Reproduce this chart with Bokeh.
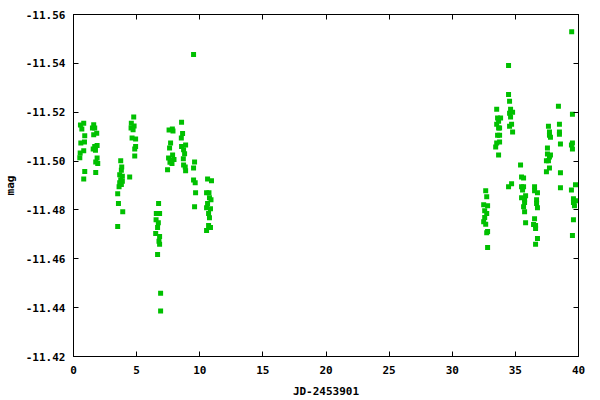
from bokeh.plotting import figure
from bokeh.models import Range1d, FixedTicker, PrintfTickFormatter, LinearAxis, CustomJSTickFormatter
from bokeh.embed import file_html
from bokeh.resources import INLINE

# Days since JD 2453901 and magnitudes
jd = [
    # night group 1
    0.55, 0.81, 0.66, 0.89, 0.58, 0.87, 0.81, 0.53, 0.50, 0.89, 0.81,
    1.60, 1.50, 1.68, 1.60, 1.84, 1.87, 1.68, 1.56, 1.74, 1.87, 1.76, 1.92, 1.76,
    # group 2
    3.74, 3.82, 3.79, 3.66, 3.87, 3.74, 3.87, 3.66, 3.61, 3.79, 3.50, 3.56, 3.90, 3.50, 4.45,
    4.77, 4.58, 4.80, 4.56, 4.72, 4.64, 4.92, 4.92, 4.85, 4.85,
    # group 3
    6.74, 6.56, 6.82, 6.54, 6.72, 6.66, 6.51, 6.82, 6.77, 6.82, 6.66, 6.90, 6.90,
    # group 4
    8.56, 7.57, 7.83, 7.88, 8.64, 8.54, 7.69, 7.61, 8.56, 8.88, 8.72, 8.80, 7.85, 7.53,
    7.75, 7.96, 7.64, 7.80, 8.70, 7.45, 8.72, 8.85, 8.88, 9.59, 9.51, 9.51, 9.64, 9.67,
    9.59, 9.51,
    # group 5
    10.62, 10.93, 10.54, 10.73, 10.77, 10.89, 10.62, 10.54, 10.85, 10.70, 10.77, 10.70,
    10.85, 10.54,
    # group 6
    32.65, 32.73, 32.49, 32.80, 32.57, 32.73, 32.57, 32.49, 32.65, 32.80, 32.73, 32.80,
    # group 7
    34.46, 34.46, 34.54, 33.52, 34.62, 34.54, 34.78, 34.62, 33.59, 33.83, 33.67, 33.52,
    34.70, 34.54, 33.67, 33.75, 34.78, 33.59, 33.75, 33.75, 33.52, 33.44, 33.67, 34.70,
    34.46,
    # group 8
    35.41, 35.49, 35.65, 35.49, 35.65, 35.57, 35.81, 35.49, 35.73, 35.73, 35.65, 35.73,
    35.81, 36.52, 36.52, 36.75, 36.68, 36.68, 36.75, 36.52, 36.44, 36.60, 36.60, 36.75,
    36.60,
    # group 9
    38.41, 37.62, 38.49, 37.70, 38.49, 37.70, 37.78, 38.49, 38.57, 37.54, 37.54, 37.78,
    37.70, 37.46, 37.62, 37.70, 37.46, 38.57, 38.57,
    # group 10
    39.52, 39.52, 39.44, 39.52, 39.76, 39.44, 39.60, 39.76, 39.60, 39.68, 39.60, 39.52,
    39.46,
]

mag = [
    -11.5148, -11.5155, -11.5131, -11.5104, -11.5074, -11.5078, -11.5042, -11.5033,
    -11.5014, -11.4957, -11.4927,
    -11.5149, -11.5135, -11.5135, -11.5108, -11.5114, -11.5064, -11.5060, -11.5049,
    -11.5044, -11.5013, -11.4996, -11.4990, -11.4953,
    -11.5001, -11.4976, -11.4962, -11.4944, -11.4938, -11.4924, -11.4917, -11.4911,
    -11.4895, -11.4904, -11.4866, -11.4826, -11.4793, -11.4732, -11.4935,
    -11.5180, -11.5155, -11.5144, -11.5135, -11.5128, -11.5094, -11.5090, -11.5060,
    -11.5049, -11.5021,
    -11.4826, -11.4785, -11.4785, -11.4760, -11.4748, -11.4728, -11.4703, -11.4691,
    -11.4672, -11.4659, -11.4618, -11.4459, -11.4386,
    -11.5159, -11.5127, -11.5131, -11.5123, -11.5113, -11.5094, -11.5074, -11.5053,
    -11.5060, -11.5066, -11.5046, -11.5030, -11.5025, -11.5013,
    -11.5003, -11.5006, -11.4995, -11.4990, -11.5010, -11.4964, -11.4984, -11.4976,
    -11.4960, -11.4996, -11.4972, -11.4923, -11.4911, -11.4870,
    -11.4813, -11.5436,
    -11.4927, -11.4919, -11.4870, -11.4870, -11.4850, -11.4842, -11.4826, -11.4809,
    -11.4805, -11.4785, -11.4768, -11.4736, -11.4728, -11.4716,
    -11.4878, -11.4854, -11.4821, -11.4817, -11.4797, -11.4785, -11.4769, -11.4752,
    -11.4741, -11.4712, -11.4707, -11.4646,
    -11.5391, -11.5273, -11.5245, -11.5212, -11.5212, -11.5196, -11.5200, -11.5180,
    -11.5176, -11.5176, -11.5163, -11.5151, -11.5151, -11.5143, -11.5135, -11.5135,
    -11.5119, -11.5106, -11.5106, -11.5078, -11.5074, -11.5058, -11.5025, -11.4907,
    -11.4895,
    -11.4984, -11.4935, -11.4931, -11.4895, -11.4895, -11.4882, -11.4858, -11.4850,
    -11.4842, -11.4830, -11.4813, -11.4793, -11.4748, -11.4895, -11.4878, -11.4870,
    -11.4842, -11.4826, -11.4809, -11.4764, -11.4740, -11.4736, -11.4724, -11.4683,
    -11.4659,
    -11.5224, -11.5143, -11.5151, -11.5119, -11.5119, -11.5106, -11.5098, -11.5110,
    -11.5070, -11.5053, -11.5029, -11.5025, -11.5017, -11.5001, -11.5001, -11.4972,
    -11.4956, -11.4952, -11.4891,
    -11.5192, -11.5074, -11.5066, -11.5049, -11.4903, -11.4882, -11.4846, -11.4838,
    -11.4830, -11.4817, -11.4760, -11.4695, -11.5529,
]

x_ticks = [0, 5, 10, 15, 20, 25, 30, 35, 40]
y_ticks = [-11.56, -11.54, -11.52, -11.50, -11.48, -11.46, -11.44, -11.42]

FONT = "DejaVu Sans Mono"

p = figure(width=600, height=400, output_backend="svg", toolbar_location=None,
           x_range=Range1d(0, 40), y_range=Range1d(-11.42, -11.56),
           min_border_left=72, min_border_right=22, min_border_top=14, min_border_bottom=42,
           x_axis_label="JD-2453901", y_axis_label="mag")

p.background_fill_color = "white"
p.border_fill_color = "white"
p.outline_line_color = "black"
p.outline_line_width = 1
p.xgrid.grid_line_color = None
p.ygrid.grid_line_color = None

p.xaxis.ticker = FixedTicker(ticks=x_ticks)
p.yaxis.ticker = FixedTicker(ticks=y_ticks)
p.yaxis.formatter = PrintfTickFormatter(format="%.2f")

for ax in (p.xaxis[0], p.yaxis[0]):
    ax.major_tick_in = 5
    ax.major_tick_out = 0
    ax.minor_tick_line_color = None
    ax.axis_line_color = "black"
    ax.major_tick_line_color = "black"
    ax.major_label_text_font = FONT
    ax.major_label_text_font_size = "11px"
    ax.major_label_text_font_style = "bold"
    ax.major_label_text_color = "black"
    ax.axis_label_text_font = FONT
    ax.axis_label_text_font_size = "11px"
    ax.axis_label_text_font_style = "bold"
    ax.axis_label_text_color = "black"

p.xaxis.major_label_standoff = 9
p.xaxis.axis_label_standoff = 8
p.yaxis.major_label_standoff = 8
p.yaxis.axis_label_standoff = 6

# mirrored tick marks on top and right
blank = CustomJSTickFormatter(code="return ''")
top = LinearAxis(ticker=FixedTicker(ticks=x_ticks), formatter=blank,
                 major_tick_in=5, major_tick_out=0, minor_tick_line_color=None,
                 major_label_text_font_size="1px", major_label_standoff=0)
right = LinearAxis(ticker=FixedTicker(ticks=y_ticks), formatter=blank,
                   major_tick_in=5, major_tick_out=0, minor_tick_line_color=None,
                   major_label_text_font_size="1px", major_label_standoff=0)
p.add_layout(top, "above")
p.add_layout(right, "right")

p.scatter(jd, mag, marker="square", size=5, fill_color="#00c000", line_color=None)

open("out.html", "w").write(file_html(p, INLINE))
